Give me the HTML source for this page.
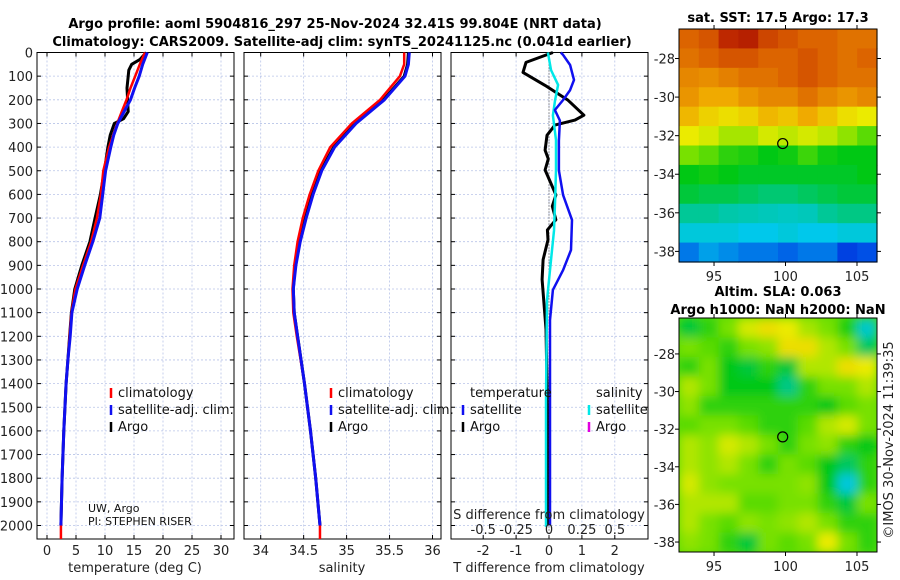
<!DOCTYPE html>
<html><head><meta charset="utf-8"><style>
body{margin:0;background:#fff;}
svg{display:block;font-family:"DejaVu Sans","Liberation Sans",sans-serif;}
</style></head><body>
<svg id="fig" width="900" height="580" viewBox="0 0 900 580" xmlns="http://www.w3.org/2000/svg">
<defs>
<filter id="blur" x="0" y="0" width="1" height="1"><feGaussianBlur stdDeviation="5" edgeMode="duplicate"/></filter>
<clipPath id="clipSla"><rect x="679" y="318" width="198" height="234"/></clipPath>
</defs>
<text x="335" y="28" font-size="13" font-weight="bold" text-anchor="middle">Argo profile: aoml 5904816_297 25-Nov-2024 32.41S 99.804E (NRT data)</text>
<text x="342" y="46" font-size="13" font-weight="bold" text-anchor="middle">Climatology: CARS2009. Satellite-adj clim: synTS_20241125.nc (0.041d earlier)</text>
<g id="g"></g>
</svg>
<script>
// ---------- data ----------
const tDepth=[0,50,100,150,200,250,300,350,400,500,600,700,800,900,1000,1100,1200,1300,1400,1600,1800,2000];
const tClim=[16.9,16.0,15.2,14.4,13.7,12.9,12.1,11.4,10.7,9.7,9.3,8.6,7.6,6.2,4.9,4.2,3.9,3.6,3.3,2.9,2.6,2.4];
const tSat=[17.3,16.5,15.9,15.1,14.4,13.3,12.2,11.5,11.0,10.1,9.6,9.1,7.9,6.5,5.2,4.3,4.0,3.6,3.3,2.9,2.6,2.4];
const tArgoDepth=[0,30,50,75,100,150,200,250,280,300,350,400,500,600,700,800,900,1000,1100,1200,1300,1400,1600,1800,2000];
const tArgo=[17.1,16.0,14.6,14.1,14.0,13.8,13.9,14.0,13.2,11.6,10.9,10.5,9.9,9.2,8.3,7.4,6.0,4.8,4.2,3.9,3.6,3.3,2.9,2.6,2.4];
const sDepth=[0,50,100,200,300,400,500,600,700,800,900,1000,1100,1200,1400,1600,1800,2000];
const sClim=[35.67,35.67,35.62,35.39,35.06,34.81,34.67,34.57,34.49,34.43,34.39,34.37,34.38,34.42,34.51,34.58,34.64,34.69];
const sSat=[35.73,35.72,35.68,35.44,35.11,34.86,34.71,34.61,34.53,34.46,34.41,34.38,34.39,34.43,34.51,34.58,34.64,34.69];
const sArgo=[35.72,35.71,35.67,35.43,35.10,34.85,34.70,34.60,34.52,34.45,34.40,34.38,34.39,34.43,34.51,34.58,34.64,34.69];
const dTArgoDepth=[0,42,84,139,202,265,286,307,350,413,450,497,550,602,650,707,750,792,876,960,1170,1500,2000];
const dTArgo=[0.12,-0.7,-0.79,-0.12,0.58,1.06,0.79,0.18,-0.06,-0.12,-0.02,-0.12,0.05,0.21,0.1,0.21,-0.05,-0.03,-0.18,-0.21,-0.09,-0.05,-0.05];
const dTSatDepth=[0,10,53,116,159,201,243,288,372,499,603,708,835,920,1004,1131,1500,2000];
const dTSat=[0.36,0.43,0.64,0.76,0.64,0.43,0.18,0.33,0.3,0.3,0.43,0.7,0.67,0.43,0.12,0.03,0.03,0.03];
const dSSatDepth=[0,74,137,201,266,370,497,626,753,878,1047,1469,2006];
const dSSat=[-0.008,0.015,0.069,0.046,0.03,0.053,0.053,0.046,0.038,0.015,-0.015,-0.023,-0.023];
const depthTicks=[0,100,200,300,400,500,600,700,800,900,1000,1100,1200,1300,1400,1500,1600,1700,1800,1900,2000];
const tTicks=[0,5,10,15,20,25,30];
const sTicks=[34,34.5,35,35.5,36];
const sTickLabels=["34","34.5","35","35.5","36"];
const dTTicks=[-2,-1,0,1,2];
const dSTicks=[-0.5,-0.25,0,0.25,0.5];
const dSTickLabels=["-0.5","-0.25","0","0.25","0.5"];
const latTicks=[-28,-30,-32,-34,-36,-38];
const lonTicks=[95,100,105];
const sstGrid=[
[.82,.84,.9,.92,.86,.84,.82,.82,.8,.8],
[.8,.82,.84,.84,.82,.82,.84,.82,.8,.82],
[.77,.76,.78,.8,.8,.82,.84,.82,.8,.8],
[.75,.72,.72,.75,.77,.77,.8,.77,.75,.77],
[.7,.66,.64,.66,.7,.68,.72,.68,.64,.62],
[.62,.6,.56,.56,.6,.58,.6,.58,.54,.5],
[.52,.5,.47,.46,.44,.45,.48,.45,.44,.44],
[.44,.45,.44,.43,.43,.43,.43,.43,.43,.44],
[.42,.41,.41,.4,.39,.39,.4,.41,.42,.42],
[.37,.37,.36,.35,.34,.33,.34,.37,.38,.38],
[.3,.3,.3,.28,.28,.3,.28,.28,.3,.3],
[.2,.24,.22,.2,.2,.18,.2,.2,.14,.16]];
const slaGrid=[
[.42,.47,.52,.6,.64,.62,.56,.52,.46,.32],
[.52,.5,.47,.52,.54,.64,.64,.57,.52,.4],
[.47,.52,.44,.42,.47,.42,.57,.57,.64,.62],
[.57,.52,.44,.44,.44,.38,.47,.52,.52,.57],
[.54,.47,.47,.47,.47,.47,.47,.44,.5,.52],
[.5,.52,.52,.5,.47,.47,.5,.57,.6,.52],
[.57,.54,.6,.57,.52,.47,.52,.54,.47,.44],
[.57,.54,.57,.52,.47,.52,.5,.44,.4,.47],
[.6,.54,.52,.52,.52,.52,.54,.44,.3,.47],
[.57,.57,.57,.5,.5,.52,.52,.47,.42,.52],
[.57,.52,.5,.54,.52,.54,.57,.52,.47,.47],
[.54,.52,.47,.42,.52,.5,.52,.62,.52,.47]];
const argoLon=[99.804];
const argoLat=[-32.41];

// ---------- helpers ----------
const NS="http://www.w3.org/2000/svg";
const G=document.getElementById('g');
function el(tag,attrs,parent,txt){const e=document.createElementNS(NS,tag);for(const k in attrs)e.setAttribute(k,attrs[k]);if(txt!==undefined)e.textContent=txt;(parent||G).appendChild(e);return e;}
const Y0=52.5,YS=0.2365,PB=539;
const yD=d=>Y0+d*YS;
const panels=[
 {x0:37,x1:234,xs:v=>47+v*5.8,ticks:tTicks,labels:tTicks.map(String),name:'temperature'},
 {x0:244,x1:441,xs:v=>260.7+(v-34)*85.9,ticks:sTicks,labels:sTickLabels,name:'salinity'},
 {x0:451,x1:648,xs:v=>549+v*32.9,ticks:dTTicks,labels:dTTicks.map(String),name:'difference'}];
const xsS=v=>549+v*131.6;

panels.forEach((p,pi)=>{
  const g=el('g',{});
  
  
  el('rect',{x:p.x0,y:Y0,width:p.x1-p.x0,height:PB-Y0,fill:'#fff'},g);
  depthTicks.forEach(d=>{
    const l=el('line',{x1:p.x0,x2:p.x1,y1:yD(d),y2:yD(d),stroke:'#b8c4e8','stroke-width':0.8,'stroke-dasharray':'2,2'},g);
    
    el('line',{x1:p.x0,x2:p.x0+4,y1:yD(d),y2:yD(d),stroke:'#000'},g);
    el('line',{x1:p.x1-4,x2:p.x1,y1:yD(d),y2:yD(d),stroke:'#000'},g);
    if(pi===0){const t=el('text',{x:33,y:yD(d)+5,'font-size':13,'text-anchor':'end',fill:'#222'},g,String(d));
      }
  });
  p.ticks.forEach((v,i)=>{
    const x=p.xs(v);
    el('line',{x1:x,x2:x,y1:Y0,y2:PB,stroke:'#b8c4e8','stroke-width':0.8,'stroke-dasharray':'2,2'},g);
    el('line',{x1:x,x2:x,y1:Y0,y2:Y0+4,stroke:'#000'},g);
    el('line',{x1:x,x2:x,y1:PB-4,y2:PB,stroke:'#000'},g);
    const t=el('text',{x:x,y:555,'font-size':13,'text-anchor':'middle',fill:'#222'},g,p.labels[i]);
    
  });
  el('rect',{x:p.x0,y:Y0,width:p.x1-p.x0,height:PB-Y0,fill:'none',stroke:'#000','stroke-width':1},g);
});
function line(xs,vals,depths,color,w,name){
  const pts=vals.map((v,i)=>xs(v).toFixed(1)+','+yD(depths[i]).toFixed(1)).join(' ');
  const p=el('polyline',{points:pts,fill:'none',stroke:color,'stroke-width':w,'stroke-linejoin':'round'});
  
}
const P=panels;
line(P[0].xs,tArgo,tArgoDepth,'#000',3,'argo-temperature-line');
line(P[0].xs,tClim,tDepth,'#f00',2.5,'climatology-temperature-line');
el('line',{x1:P[0].xs(2.4),x2:P[0].xs(2.4),y1:yD(2000),y2:PB,stroke:'#f00','stroke-width':2.5});
line(P[0].xs,tSat,tDepth,'#1010f0',3,'satellite-temperature-line');
line(P[1].xs,sArgo,sDepth,'#000',3,'argo-salinity-line');
line(P[1].xs,sClim,sDepth,'#f00',2.5,'climatology-salinity-line');
el('line',{x1:P[1].xs(34.69),x2:P[1].xs(34.69),y1:yD(2000),y2:PB,stroke:'#f00','stroke-width':2.5});
line(P[1].xs,sSat,sDepth,'#1010f0',3,'satellite-salinity-line');
el('line',{x1:549,x2:549,y1:Y0,y2:PB,stroke:'#444','stroke-width':1,'stroke-dasharray':'1,2'});
line(P[2].xs,dTArgo,dTArgoDepth,'#000',3,'argo-t-difference-line');
line(xsS,dSSat,dSSatDepth,'#00e8e8',2.5,'satellite-s-difference-line');
line(P[2].xs,dTSat,dTSatDepth,'#1010f0',2.5,'satellite-t-difference-line');
const sh=el('text',{x:549,y:519,'font-size':13,'text-anchor':'middle',fill:'#222'},G,'S difference from climatology');

dSTicks.forEach((v,i)=>{const t=el('text',{x:xsS(v),y:534,'font-size':13,'text-anchor':'middle',fill:'#222'},G,dSTickLabels[i]);
  });
[['temperature (deg C)',135,'temperature-axis-title'],['salinity',342,'salinity-axis-title'],['T difference from climatology',549,'t-difference-axis-title']].forEach(a=>{
  const t=el('text',{x:a[1],y:572,'font-size':13,'text-anchor':'middle',fill:'#222'},G,a[0]);
  });
function legend(x,y,color,label,name){
  const g=el('g',{});
  el('line',{x1:x,x2:x,y1:y-9,y2:y+1,stroke:color,'stroke-width':2.5},g);
  if(label)el('text',{x:x+7,y:y,'font-size':13,fill:'#111'},g,label);
}
[[111,'#f00','climatology'],[111,'#1010f0','satellite-adj. clim.'],[111,'#000','Argo']].forEach((l,i)=>{legend(l[0],397+i*17,l[1],l[2],'temperature-legend-entry');legend(331,397+i*17,l[1],l[2],'salinity-legend-entry');});
el('text',{x:470,y:397,'font-size':13,fill:'#111'},G,'temperature');
el('text',{x:596,y:397,'font-size':13,fill:'#111'},G,'salinity');
legend(463,414,'#1010f0','satellite','t-diff-satellite-legend');
legend(463,431,'#000','Argo','t-diff-argo-legend');
legend(589,414,'#00e8e8','satellite','s-diff-satellite-legend');
legend(589,431,'#e000e0','Argo','s-diff-argo-legend');
const pi1=el('text',{x:88,y:512,'font-size':11,fill:'#111'},G,'UW, Argo');
const pi2=el('text',{x:88,y:525,'font-size':11,fill:'#111'},G,'PI: STEPHEN RISER');



// ---------- maps ----------
const stops=[[0,[0,0,150]],[0.15,[0,70,230]],[0.28,[0,200,235]],[0.36,[0,200,170]],[0.44,[0,200,20]],[0.52,[120,225,0]],[0.62,[235,235,0]],[0.72,[240,170,0]],[0.82,[220,100,0]],[0.9,[190,40,0]],[1,[150,0,0]]];
function cmap(v){for(let i=1;i<stops.length;i++){if(v<=stops[i][0]){const a=stops[i-1],b=stops[i],f=(v-a[0])/(b[0]-a[0]);return 'rgb('+a[1].map((c,k)=>Math.round(c+(b[1][k]-c)*f)).join(',')+')';}}return 'rgb(150,0,0)';}
function map(grid,x0,y0,x1,y1,lonL,lonR,latT,latB,name,cellName,smooth){
  const g=el('g',{});
  const lx=v=>x0+(v-lonL)/(lonR-lonL)*(x1-x0), ly=v=>y0+(v-latT)/(latB-latT)*(y1-y0);
  const R=grid.length,C=grid[0].length,cw=(x1-x0)/C,ch=(y1-y0)/R;
  let cg=g;
  if(smooth){const outer=el('g',{'clip-path':'url(#clipSla)'},g);
    el('rect',{x:x0,y:y0,width:x1-x0,height:y1-y0,fill:cmap(0.5)},outer);
    cg=el('g',{filter:'url(#blur)'},outer);}
  grid.forEach((row,r)=>row.forEach((v,c)=>{
    const rc=el('rect',{x:(x0+c*cw).toFixed(2),y:(y0+r*ch).toFixed(2),width:(cw+0.6).toFixed(2),height:(ch+0.6).toFixed(2),fill:cmap(v)},cg);
    
  }));
  el('rect',{x:x0,y:y0,width:x1-x0,height:y1-y0,fill:'none',stroke:'#000'},g);
  latTicks.forEach(v=>{const y=ly(v);el('line',{x1:x1,x2:x1+4,y1:y,y2:y,stroke:'#000'},g);el('line',{x1:x0-4,x2:x0,y1:y,y2:y,stroke:'#000'},g);
    el('text',{x:x0-4,y:y+5,'font-size':13,'text-anchor':'end',fill:'#222'},g,String(v));});
  lonTicks.forEach(v=>{const x=lx(v);el('line',{x1:x,x2:x,y1:y1,y2:y1+4,stroke:'#000'},g);el('line',{x1:x,x2:x,y1:y0-4,y2:y0,stroke:'#000'},g);
    el('text',{x:x,y:y1+19,'font-size':13,'text-anchor':'middle',fill:'#222'},g,String(v));});
  const c=el('circle',{cx:lx(argoLon[0]),cy:ly(argoLat[0]),r:5,fill:'none',stroke:'#000','stroke-width':1.2},g);
  
}
map(sstGrid,679,29,877,262,92.55,106.4,-26.47,-38.55,'sst-map','sst-cell',false);
map(slaGrid,679,318,877,552,92.55,106.4,-26.09,-38.53,'sla-map','sla-cell',true);
[['sat. SST: 17.5 Argo: 17.3',778,22,'sst-map-title'],['Altim. SLA: 0.063',778,296,'sla-map-title'],['Argo h1000: NaN h2000: NaN',778,314,'argo-height-title']].forEach(a=>{
  const t=el('text',{x:a[1],y:a[2],'font-size':13,'font-weight':'bold','text-anchor':'middle'},G,a[0]);
  });
const cr=el('text',{x:0,y:0,'font-size':13,'text-anchor':'middle',fill:'#222',transform:'translate(893,440) rotate(-90)'},G,'©IMOS 30-Nov-2024 11:39:35');

</script>
</body></html>
